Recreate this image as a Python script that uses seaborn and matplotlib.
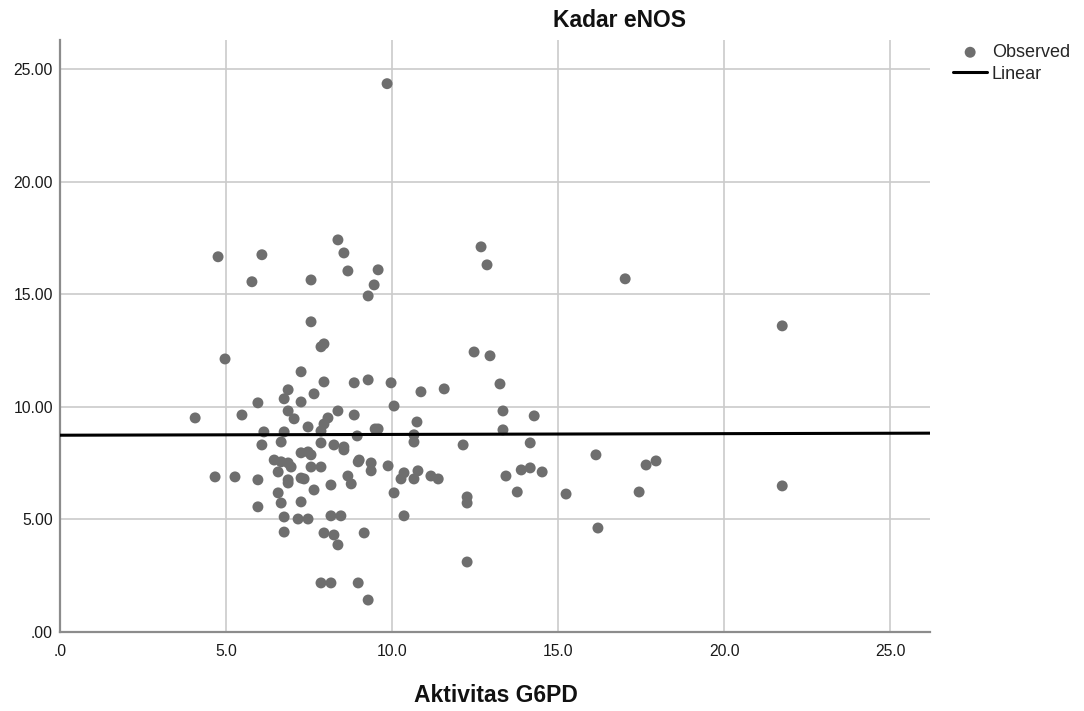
import matplotlib
matplotlib.use("Agg")
import matplotlib.pyplot as plt
from matplotlib.ticker import FuncFormatter
import seaborn as sns
import pandas as pd

# Aktivitas G6PD (x) and Kadar eNOS (y)
g6pd = [9.85, 8.37, 8.55, 4.76, 6.08, 12.68, 12.86, 8.67, 9.58, 5.78,
        7.56, 9.46, 9.28, 17.02, 21.75, 7.56, 7.86, 7.95, 12.47, 12.95,
        4.97, 7.26, 13.25, 7.95, 8.86, 9.28, 9.97, 11.57, 10.87, 6.87,
        7.65, 6.75, 7.26, 5.96, 10.06, 6.87, 5.48, 4.07, 8.37, 8.86,
        13.34, 14.28, 8.07, 7.95, 7.05, 7.47, 7.86, 10.75, 13.34, 9.49,
        9.58, 6.14, 6.75, 8.95, 10.66, 10.66, 7.86, 8.25, 8.55, 8.55,
        12.14, 14.16, 6.66, 6.08, 16.14, 6.45, 6.66, 6.87, 6.96, 7.26,
        7.47, 7.56, 7.56, 7.86, 9.01, 8.98, 9.37, 9.37, 9.88, 17.95,
        17.65, 13.89, 14.16, 14.52, 6.57, 10.36, 10.27, 10.78, 10.66, 11.17,
        11.39, 13.43, 4.67, 5.27, 5.96, 6.87, 6.87, 7.26, 7.35, 8.67,
        8.77, 8.16, 7.65, 10.06, 13.77, 12.26, 12.26, 15.24, 17.44, 6.57,
        6.66, 7.26, 5.96, 10.36, 8.16, 8.46, 6.75, 7.17, 7.47, 21.75,
        16.20, 6.75, 7.95, 8.25, 8.37, 9.16, 12.26, 7.86, 8.16, 8.98,
        9.28]
enos = [24.36, 17.42, 16.84, 16.67, 16.76, 17.11, 16.31, 16.04, 16.09, 15.56,
        15.64, 15.42, 14.93, 15.69, 13.60, 13.78, 12.67, 12.80, 12.44, 12.27,
        12.13, 11.56, 11.02, 11.11, 11.07, 11.20, 11.07, 10.80, 10.67, 10.76,
        10.58, 10.36, 10.22, 10.18, 10.04, 9.82, 9.64, 9.51, 9.82, 9.64,
        9.82, 9.60, 9.51, 9.24, 9.47, 9.11, 8.93, 9.33, 8.98, 9.02,
        9.02, 8.89, 8.89, 8.71, 8.76, 8.44, 8.40, 8.31, 8.22, 8.09,
        8.31, 8.40, 8.44, 8.31, 7.87, 7.64, 7.56, 7.51, 7.33, 7.96,
        8.00, 7.87, 7.33, 7.33, 7.64, 7.56, 7.51, 7.16, 7.38, 7.60,
        7.42, 7.20, 7.29, 7.11, 7.11, 7.07, 6.80, 7.16, 6.80, 6.93,
        6.80, 6.93, 6.89, 6.89, 6.76, 6.76, 6.62, 6.84, 6.80, 6.93,
        6.58, 6.53, 6.31, 6.18, 6.22, 6.00, 5.73, 6.13, 6.22, 6.18,
        5.73, 5.78, 5.56, 5.16, 5.16, 5.16, 5.11, 5.02, 5.02, 6.49,
        4.62, 4.44, 4.40, 4.31, 3.87, 4.40, 3.11, 2.18, 2.18, 2.18,
        1.42]

x_ticks = [0, 5, 10, 15, 20, 25]
y_ticks = [0, 5, 10, 15, 20, 25]

df = pd.DataFrame({"Aktivitas G6PD": g6pd, "Kadar eNOS": enos})

sns.set_style("white")
plt.rcParams["font.family"] = ["Liberation Sans", "DejaVu Sans"]

W, H = 1084, 711
fig = plt.figure(figsize=(W / 100, H / 100), dpi=100)
ax = fig.add_axes([60 / W, 1 - 632 / H, 870 / W, 592 / H])

ax.set_xlim(0, 26.2)
ax.set_ylim(0, 26.3)

sns.scatterplot(data=df, x="Aktivitas G6PD", y="Kadar eNOS", ax=ax,
                color="#6e6e6e", s=62, edgecolor="none", label="Observed",
                zorder=3)
n_before = len(ax.lines)
sns.regplot(data=df, x="Aktivitas G6PD", y="Kadar eNOS", ax=ax,
            scatter=False, ci=None, truncate=False, color="black",
            line_kws={"lw": 2.2, "zorder": 4})
for ln in ax.lines[n_before:]:
    ln.set_label("Linear")

ax.set_xlim(0, 26.2)
ax.set_ylim(0, 26.3)
ax.set_xticks(x_ticks)
ax.set_yticks(y_ticks)
ax.xaxis.set_major_formatter(FuncFormatter(lambda v, p: f"{v:.1f}".lstrip("0") if v < 1 else f"{v:.1f}"))
ax.yaxis.set_major_formatter(FuncFormatter(lambda v, p: f"{v:.2f}".lstrip("0") if v < 1 else f"{v:.2f}"))

ax.grid(True, color="#cbcbcb", lw=1.2, zorder=0)
ax.set_axisbelow(True)
for s in ["top", "right"]:
    ax.spines[s].set_visible(False)
for s in ["left", "bottom"]:
    ax.spines[s].set_color("#8c8c8c")
    ax.spines[s].set_linewidth(1.6)

ax.tick_params(axis="both", length=0, labelsize=11.3, labelcolor="#1a1a1a")
ax.tick_params(axis="x", pad=9)
ax.tick_params(axis="y", pad=5)
ax.set_xlabel("")
ax.set_ylabel("")

fig.text(619.5 / W, 1 - 27 / H, "Kadar eNOS", ha="center", va="baseline",
         fontsize=16.5, fontweight="bold", color="#111111")
fig.text(495.5 / W, 1 - 702 / H, "Aktivitas G6PD", ha="center", va="baseline",
         fontsize=16.5, fontweight="bold", color="#111111")

handles, labels = ax.get_legend_handles_labels()
ax.legend(handles, labels, loc="upper left", bbox_to_anchor=(953 / W, 1 - 44 / H),
          bbox_transform=fig.transFigure, frameon=False, fontsize=13,
          handlelength=1.9, handletextpad=0.25, labelspacing=0.25,
          borderpad=0, borderaxespad=0)

fig.savefig("out.png", dpi=100)
